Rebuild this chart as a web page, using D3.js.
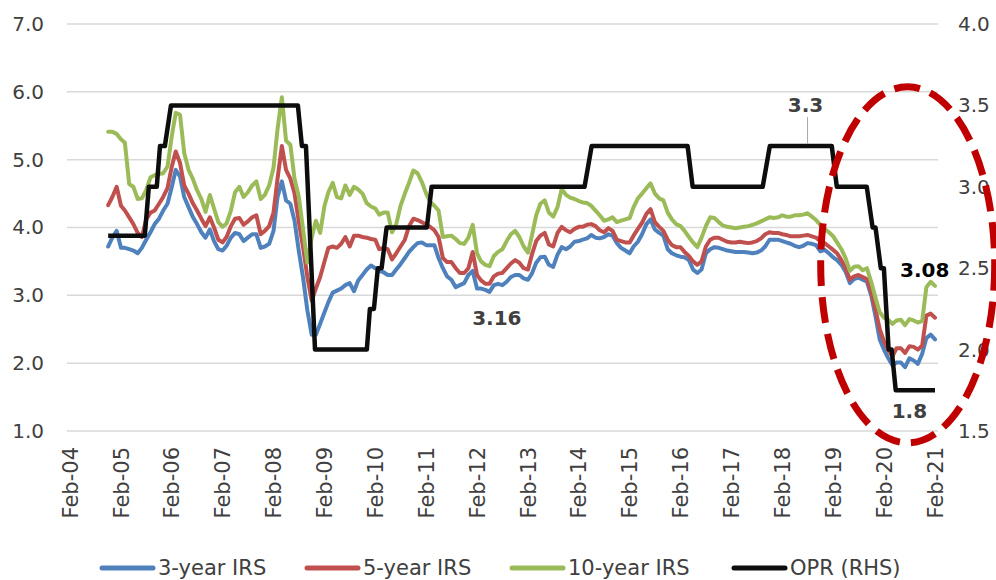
<!DOCTYPE html>
<html>
<head>
<meta charset="utf-8">
<script src="https://cdn.jsdelivr.net/npm/d3@7/dist/d3.min.js"></script>
<style>
  body { margin: 0; background: #fff; }
  svg { display: block; font-family: "DejaVu Sans", sans-serif; }
</style>
</head>
<body>
<div id="chart-container"></div>
<script>
// series names + tick labels
const seriesNames = ["3-year IRS", "5-year IRS", "10-year IRS", "OPR (RHS)"];
const yearLabels = ["Feb-04", "Feb-05", "Feb-06", "Feb-07", "Feb-08", "Feb-09", "Feb-10", "Feb-11", "Feb-12",
  "Feb-13", "Feb-14", "Feb-15", "Feb-16", "Feb-17", "Feb-18", "Feb-19", "Feb-20", "Feb-21"];
const leftTicks = [1, 2, 3, 4, 5, 6, 7];
const rightTicks = [1.5, 2, 2.5, 3, 3.5, 4];

// monthly IRS, Nov 2004 .. Feb 2021 (one row per year)
const firstMonth = "2004-11";
const irs3y = [
  3.72, 3.85,
  3.95, 3.70, 3.70, 3.68, 3.66, 3.62, 3.70, 3.82, 3.93, 4.05, 4.13, 4.25,
  4.35, 4.60, 4.85, 4.75, 4.45, 4.30, 4.16, 4.05, 3.93, 3.85, 3.97, 3.80,
  3.68, 3.66, 3.73, 3.85, 3.92, 3.90, 3.80, 3.85, 3.90, 3.90, 3.70, 3.72,
  3.76, 3.95, 4.45, 4.68, 4.40, 4.35, 4.10, 3.65, 3.25, 2.78, 2.42, 2.42,
  2.58, 2.75, 2.90, 3.04, 3.07, 3.10, 3.15, 3.18, 3.06, 3.22, 3.30, 3.38,
  3.44, 3.40, 3.36, 3.34, 3.30, 3.30, 3.38, 3.46, 3.55, 3.64, 3.71, 3.77,
  3.78, 3.74, 3.74, 3.74, 3.55, 3.40, 3.28, 3.23, 3.12, 3.15, 3.18, 3.30,
  3.36, 3.10, 3.10, 3.08, 3.05, 3.15, 3.17, 3.15, 3.20, 3.27, 3.30, 3.30,
  3.25, 3.23, 3.32, 3.48, 3.56, 3.57, 3.45, 3.42, 3.60, 3.71, 3.68, 3.72,
  3.79, 3.80, 3.82, 3.84, 3.89, 3.85, 3.84, 3.86, 3.90, 3.88, 3.77, 3.70,
  3.66, 3.62, 3.72, 3.79, 3.90, 4.05, 4.12, 3.97, 3.92, 3.88, 3.68, 3.62,
  3.59, 3.57, 3.56, 3.52, 3.38, 3.33, 3.38, 3.62, 3.68, 3.71, 3.70, 3.68,
  3.66, 3.65, 3.64, 3.64, 3.64, 3.63, 3.62, 3.63, 3.66, 3.72, 3.82, 3.82,
  3.82, 3.80, 3.78, 3.76, 3.73, 3.71, 3.73, 3.77, 3.76, 3.74, 3.65, 3.67,
  3.62, 3.56, 3.52, 3.45, 3.35, 3.18, 3.24, 3.26, 3.23, 3.20, 3.00, 2.70,
  2.35, 2.20, 2.08, 1.97, 2.01, 2.01, 1.94, 2.07, 2.04, 1.99, 2.14, 2.37,
  2.42, 2.35
];
const irs5y = [
  4.33, 4.45,
  4.60, 4.32, 4.25, 4.15, 4.05, 3.92, 3.86, 4.12, 4.22, 4.25, 4.35, 4.45,
  4.58, 4.90, 5.12, 4.95, 4.62, 4.50, 4.36, 4.25, 4.13, 4.02, 4.15, 4.00,
  3.82, 3.78, 3.86, 4.02, 4.13, 4.14, 4.04, 4.09, 4.15, 4.18, 3.90, 3.95,
  4.02, 4.22, 4.72, 5.20, 4.85, 4.72, 4.50, 4.08, 3.70, 3.27, 2.92, 3.10,
  3.27, 3.50, 3.70, 3.72, 3.70, 3.76, 3.86, 3.72, 3.88, 3.88, 3.86, 3.85,
  3.83, 3.82, 3.68, 3.70, 3.68, 3.53, 3.62, 3.72, 3.82, 4.02, 4.13, 4.11,
  4.08, 4.04, 4.01, 3.96, 3.86, 3.55, 3.49, 3.49, 3.40, 3.33, 3.33, 3.40,
  3.64, 3.30, 3.22, 3.17, 3.17, 3.28, 3.32, 3.33, 3.40, 3.47, 3.52, 3.48,
  3.40, 3.38, 3.60, 3.80, 3.88, 3.92, 3.75, 3.72, 3.92, 4.01, 3.96, 3.93,
  3.98, 4.01, 4.01, 4.04, 4.05, 4.02, 3.96, 3.93, 3.99, 3.95, 3.82, 3.80,
  3.78, 3.78, 3.88, 3.98, 4.07, 4.20, 4.27, 4.08, 4.01, 3.95, 3.82, 3.74,
  3.71, 3.71, 3.64, 3.58, 3.50, 3.45, 3.50, 3.72, 3.82, 3.85, 3.85, 3.82,
  3.79, 3.78, 3.78, 3.79, 3.78, 3.77, 3.78, 3.80, 3.84, 3.90, 3.93, 3.92,
  3.92, 3.90, 3.89, 3.87, 3.87, 3.87, 3.88, 3.89, 3.87, 3.85, 3.80, 3.77,
  3.72, 3.67, 3.62, 3.52, 3.40, 3.23, 3.28, 3.30, 3.27, 3.24, 3.05, 2.80,
  2.50, 2.32, 2.20, 2.10, 2.22, 2.22, 2.15, 2.25, 2.24, 2.20, 2.26, 2.70,
  2.73, 2.67
];
const irs10y = [
  5.41, 5.41,
  5.38, 5.30, 5.25, 4.64, 4.60, 4.42, 4.43, 4.55, 4.74, 4.77, 4.79, 4.80,
  4.90, 5.35, 5.69, 5.66, 5.10, 4.85, 4.72, 4.55, 4.42, 4.23, 4.48, 4.28,
  4.08, 4.01, 4.06, 4.25, 4.52, 4.60, 4.45, 4.52, 4.62, 4.68, 4.42, 4.48,
  4.62, 4.88, 5.45, 5.92, 5.28, 5.22, 4.72, 4.45, 3.96, 3.48, 3.85, 4.10,
  3.92, 4.32, 4.52, 4.66, 4.45, 4.43, 4.62, 4.48, 4.60, 4.56, 4.50, 4.36,
  4.31, 4.28, 4.19, 4.22, 4.22, 3.93, 4.05, 4.32, 4.50, 4.66, 4.84, 4.80,
  4.67, 4.50, 4.38, 4.32, 4.25, 3.86, 3.87, 3.88, 3.83, 3.77, 3.76, 3.85,
  4.04, 3.62, 3.50, 3.45, 3.43, 3.58, 3.64, 3.68, 3.80, 3.90, 3.95, 3.86,
  3.72, 3.63, 3.88, 4.18, 4.35, 4.40, 4.22, 4.16, 4.30, 4.57, 4.48, 4.44,
  4.42, 4.39, 4.37, 4.36, 4.32, 4.25, 4.18, 4.10, 4.12, 4.15, 4.08, 4.10,
  4.12, 4.14, 4.30, 4.43, 4.50, 4.58, 4.65, 4.50, 4.43, 4.40, 4.22, 4.12,
  4.05, 4.02, 3.95, 3.86, 3.78, 3.71, 3.85, 4.02, 4.15, 4.14, 4.08, 4.03,
  4.01, 4.00, 3.99, 4.00, 4.01, 4.02, 4.04, 4.06, 4.09, 4.12, 4.15, 4.14,
  4.15, 4.18, 4.16, 4.16, 4.18, 4.18, 4.19, 4.21, 4.16, 4.11, 4.04, 3.98,
  3.93, 3.87, 3.78, 3.68, 3.55, 3.36, 3.42, 3.43, 3.37, 3.40, 3.20, 2.97,
  2.75, 2.67, 2.64, 2.58, 2.63, 2.64, 2.56, 2.65, 2.63, 2.60, 2.62, 3.12,
  3.20, 3.14
];

// OPR line vertices (right axis)
const oprDates = ["2004-11-01", "2005-07-22", "2005-08-20", "2005-10-16", "2005-11-08", "2005-12-13",
  "2006-01-26", "2008-07-25", "2008-08-23", "2008-09-21", "2008-11-25", "2009-12-02", "2009-12-24",
  "2010-01-22", "2010-02-19", "2010-03-18", "2010-04-23", "2011-02-06", "2011-03-12", "2014-03-14",
  "2014-05-04", "2016-03-23", "2016-04-28", "2017-09-13", "2017-11-03", "2019-01-22", "2019-02-27",
  "2019-09-30", "2019-11-11", "2019-12-02", "2020-01-09", "2020-01-31", "2020-03-05", "2020-03-27",
  "2020-04-25", "2021-02-01"];
const oprValues = [2.70, 2.70, 3.00, 3.00, 3.25, 3.25, 3.50, 3.50, 3.25, 3.25, 2.00, 2.00, 2.25,
  2.25, 2.50, 2.50, 2.75, 2.75, 3.00, 3.00, 3.25, 3.25, 3.00, 3.00, 3.25, 3.25, 3.00,
  3.00, 2.75, 2.75, 2.50, 2.50, 2.00, 2.00, 1.75, 1.75];

const colors = ["#4F81BD", "#C0504D", "#9BBB59", "#0D0D0D"];
const textColor = "#404040";

document.addEventListener('DOMContentLoaded', function(){
  drawChart();
});

function drawChart(){
  let svgWidth = 996;
  let svgHeight = 580;

  let svg = d3.select('#chart-container')
    .append('svg')
    .attr('width', svgWidth)
    .attr('height', svgHeight);

  let parseDay = d3.timeParse("%Y-%m-%d");
  let parseLabel = d3.timeParse("%b-%y");
  let start = d3.timeParse("%Y-%m")(firstMonth);
  let months = irs3y.map((d, i) => d3.timeMonth.offset(start, i));

  //scales
  let xScale = d3.scaleTime()
    .domain([parseLabel("Feb-04"), parseLabel("Feb-21")])
    .range([70, 935]);
  let yLeft = d3.scaleLinear().domain([1, 7]).range([431, 24]);
  let yRight = d3.scaleLinear().domain([1.5, 4]).range([431, 24]);

  //gridlines
  svg.append("g")
    .selectAll("line")
    .data(leftTicks)
    .enter()
    .append("line")
    .attr("x1", 67)
    .attr("x2", 938)
    .attr("y1", d => yLeft(d))
    .attr("y2", d => yLeft(d))
    .attr("stroke", "#d9d9d9")
    .attr("stroke-width", 1.5);

  //left axis
  let leftAxis = d3.axisLeft(yLeft)
    .tickValues(leftTicks)
    .tickSize(0)
    .tickPadding(0)
    .tickFormat(d3.format(".1f"));
  let gl = svg.append("g")
    .attr("transform", "translate(44,0)")
    .call(leftAxis);
  gl.select(".domain").remove();
  gl.selectAll("text")
    .style("font-size", "20px")
    .style("font-family", "DejaVu Sans")
    .attr("fill", textColor);

  //right axis
  let rightAxis = d3.axisRight(yRight)
    .tickValues(rightTicks)
    .tickSize(0)
    .tickPadding(0)
    .tickFormat(d3.format(".1f"));
  let gr = svg.append("g")
    .attr("transform", "translate(958,0)")
    .call(rightAxis);
  gr.select(".domain").remove();
  gr.selectAll("text")
    .style("font-size", "20px")
    .style("font-family", "DejaVu Sans")
    .attr("fill", textColor);

  //x labels, rotated
  svg.append("g")
    .selectAll("text")
    .data(yearLabels)
    .enter()
    .append("text")
    .attr("transform", d => "translate(" + xScale(parseLabel(d)) + ",447) rotate(-90)")
    .attr("text-anchor", "end")
    .attr("dy", "0.36em")
    .style("font-size", "21px")
    .attr("fill", textColor)
    .text(d => d);

  //IRS lines
  let irsLine = d3.line()
    .x((d, i) => xScale(months[i]))
    .y(d => yLeft(d));

  [irs3y, irs5y, irs10y].forEach((series, k) => {
    svg.append("path")
      .datum(series)
      .attr("d", irsLine)
      .attr("fill", "none")
      .attr("stroke", colors[k])
      .attr("stroke-width", 4)
      .attr("stroke-linejoin", "round")
      .attr("stroke-linecap", "round");
  });

  //OPR line
  let oprLine = d3.line()
    .x((d, i) => xScale(parseDay(oprDates[i])))
    .y(d => yRight(d));

  svg.append("path")
    .datum(oprValues)
    .attr("d", oprLine)
    .attr("fill", "none")
    .attr("stroke", colors[3])
    .attr("stroke-width", 4.5)
    .attr("stroke-linejoin", "round");

  //data labels
  let lbl = (x, y, txt, col) => svg.append("text")
    .attr("x", x)
    .attr("y", y)
    .attr("text-anchor", "middle")
    .attr("dominant-baseline", "central")
    .style("font-size", "20px")
    .style("font-weight", "bold")
    .attr("fill", col)
    .text(txt);

  let d33 = parseDay("2018-08-01");
  svg.append("line")
    .attr("x1", xScale(d33))
    .attr("x2", xScale(d33))
    .attr("y1", yRight(3.25) - 2)
    .attr("y2", yRight(3.25) - 29)
    .attr("stroke", "#a6a6a6")
    .attr("stroke-width", 1);
  lbl(xScale(d33) - 2, yRight(3.25) - 41, "3.3", textColor);
  lbl(xScale(parseDay("2020-08-01")), yRight(1.75) + 21, "1.8", textColor);
  lbl(xScale(months[194]) - 6, yLeft(irs10y[194]) - 12, "3.08", "#000");
  lbl(xScale(months[91]) + 3, yLeft(irs3y[90]) + 26, "3.16", textColor);

  //red dashed ellipse around 2019-2021
  svg.append("ellipse")
    .attr("cx", xScale(parseDay("2020-07-20")))
    .attr("cy", yLeft(3.45))
    .attr("rx", 87)
    .attr("ry", 178)
    .attr("fill", "none")
    .attr("stroke", "#C00000")
    .attr("stroke-width", 7)
    .attr("stroke-dasharray", "26,11");

  //legend
  let legendX = [100, 305, 510, 732];
  let legend = svg.append("g")
    .selectAll("g")
    .data(seriesNames)
    .enter()
    .append("g")
    .attr("transform", (d, i) => "translate(" + legendX[i] + ",568)");
  legend.append("line")
    .attr("x1", 2)
    .attr("x2", 53)
    .attr("stroke", (d, i) => colors[i])
    .attr("stroke-width", 5)
    .attr("stroke-linecap", "round");
  legend.append("text")
    .attr("x", 58)
    .attr("dy", "0.35em")
    .style("font-size", "21px")
    .attr("fill", textColor)
    .text(d => d);
}
</script>
</body>
</html>
